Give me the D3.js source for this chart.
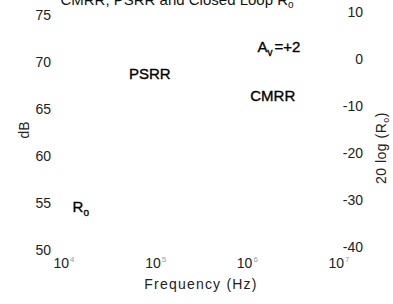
<!DOCTYPE html>
<html>
<head>
<meta charset="utf-8">
<script src="https://cdn.jsdelivr.net/npm/d3@7"></script>
<style>
  body { margin: 0; background: #fff; }
  svg { display: block; font-family: "Liberation Sans", Arial, sans-serif; }
  .tick text { fill: #222; font-size: 14px; }
  .note { fill: #000; font-size: 15px; stroke: #000; stroke-width: 0.35px; }
</style>
</head>
<body>
<svg id="chart" width="393" height="304"></svg>
<script>
// tick values
const freqTicks = [1e4, 1e5, 1e6, 1e7];
const dbTicks = [50, 55, 60, 65, 70, 75];
const roTicks = [-40, -30, -20, -10, 0, 10];

// curve labels, placed in data coordinates (freq, dB)
const noteNames = ['PSRR', 'CMRR', 'A_v =+2', 'R_o'];
const noteFreq = [8.2e4, 1.8e6, 2.1e6, 1.45e4];
const noteDb = [68.8, 66.4, 71.6, 54.6];

const svg = d3.select('#chart');

const x = d3.scaleLog().domain([1e4, 1e7]).range([66, 341]);
const yL = d3.scaleLinear().domain([50, 75]).range([250, 15]);
const yR = d3.scaleLinear().domain([-40, 10]).range([247, 12]);

// left axis: labels only, no line
svg.append('g').attr('class', 'tick')
  .selectAll('text').data(dbTicks).enter().append('text')
  .attr('x', 51)
  .attr('y', d => yL(d))
  .attr('dy', '0.35em')
  .attr('text-anchor', 'end')
  .text(d => d);

// right axis
svg.append('g').attr('class', 'tick')
  .selectAll('text').data(roTicks).enter().append('text')
  .attr('x', 363)
  .attr('y', d => yR(d))
  .attr('dy', '0.35em')
  .attr('text-anchor', 'end')
  .text(d => d);

// bottom axis, 10^n
const bt = svg.append('g').attr('class', 'tick')
  .selectAll('text').data(freqTicks).enter().append('text')
  .attr('x', d => x(d) - 2)
  .attr('y', 268)
  .attr('text-anchor', 'middle');
bt.append('tspan').text('10');
bt.append('tspan')
  .attr('dy', -6)
  .attr('dx', 1)
  .style('font-size', '8px')
  .style('fill', '#999')
  .text(d => Math.round(Math.log10(d)));

// axis titles
svg.append('text')
  .attr('x', 201).attr('y', 289)
  .attr('text-anchor', 'middle')
  .style('font-size', '14px').style('letter-spacing', '1.2px').style('fill', '#222')
  .text('Frequency (Hz)');

svg.append('text')
  .attr('transform', 'translate(29,130) rotate(-90)')
  .attr('text-anchor', 'middle')
  .style('font-size', '14px').style('fill', '#222')
  .text('dB');

const rt = svg.append('text')
  .attr('transform', 'translate(386,148) rotate(-90)')
  .attr('text-anchor', 'middle')
  .style('font-size', '14px').style('letter-spacing', '0.5px').style('fill', '#222');
rt.append('tspan').text('20 log (R');
rt.append('tspan').attr('dy', 3).style('font-size', '9px').text('o');
rt.append('tspan').attr('dy', -3).text(')');

// title, cut by the top edge
const title = svg.append('text')
  .attr('x', 177).attr('y', 5)
  .attr('text-anchor', 'middle')
  .style('font-size', '15px').style('fill', '#111');
title.append('tspan').text('CMRR, PSRR and Closed Loop R');
title.append('tspan').attr('dy', 3).style('font-size', '10px').text('o');

// curve labels
noteNames.forEach((name, i) => {
  const t = svg.append('text')
    .attr('class', 'note')
    .attr('x', x(noteFreq[i]))
    .attr('y', yL(noteDb[i]))
    .attr('dy', '0.35em')
    .attr('text-anchor', 'middle');
  const parts = name.split('_');
  t.append('tspan').text(parts[0]);
  if (parts[1]) {
    const sub = parts[1].split(' ');
    t.append('tspan').attr('dy', 4).style('font-size', '10px').text(sub[0]);
    if (sub[1]) t.append('tspan').attr('dy', -4).attr('dx', 2).text(sub[1]);
  }
});
</script>
</body>
</html>
